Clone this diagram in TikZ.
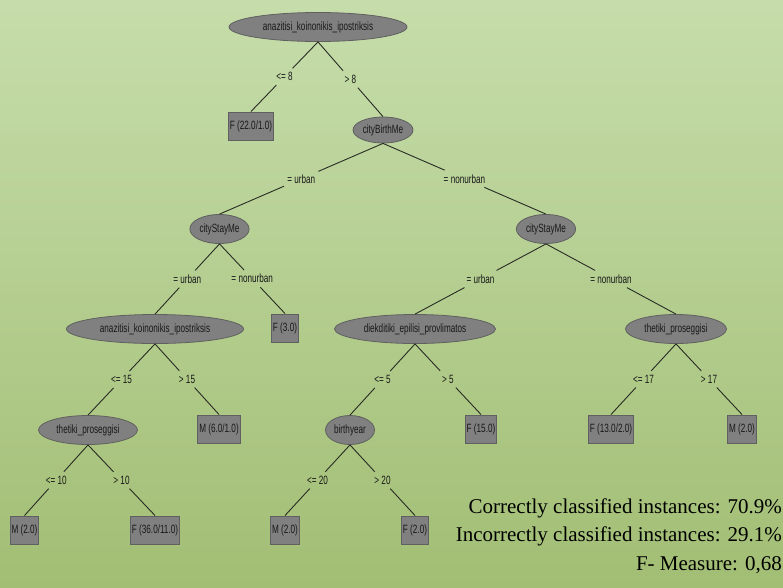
\documentclass[tikz,border=0pt]{standalone}
\usepackage{fontspec}
\usetikzlibrary{shapes.geometric}
\newfontfamily\nodefont[FakeStretch=0.68]{Liberation Sans}
\newfontfamily\statfont{Liberation Serif}
\definecolor{bgtop}{RGB}{198,221,171}
\definecolor{bgbot}{RGB}{162,190,116}
\definecolor{nodegray}{RGB}{128,128,128}
\definecolor{nodeedge}{RGB}{96,96,96}
\definecolor{linecol}{RGB}{40,44,36}
\definecolor{txt}{RGB}{25,25,25}
\tikzset{
  inner/.style={ellipse, fill=nodegray, draw=nodeedge, line width=0.8pt, inner sep=1pt, minimum height=29pt, font=\nodefont\fontsize{12}{14}\selectfont, text=txt},
  leaf/.style={rectangle, fill=nodegray, draw=nodeedge, line width=1pt, inner xsep=1.5pt, inner ysep=1pt, minimum height=28pt, font=\nodefont\fontsize{12}{14}\selectfont, text=txt},
  lbl/.style={inner xsep=3pt, inner ysep=4pt, font=\nodefont\fontsize{12}{14}\selectfont, text=txt},
  edge/.style={draw=linecol, line width=0.9pt},
  stat/.style={anchor=base east, inner sep=0pt, font=\statfont\fontsize{21}{24}\selectfont, text=black}
}
\begin{document}
\begin{tikzpicture}[x=1pt,y=-1pt]
\shade[top color=bgtop, bottom color=bgbot] (0,0) rectangle (783,587);
\useasboundingbox (0,0) rectangle (783,587);

% nodes
\node[inner, minimum width=178pt] (root) at (318,27) {anazitisi\_koinonikis\_ipostriksis};
\node[leaf] (f22) at (251,126) {F (22.0/1.0)};
\node[inner, minimum width=60pt, minimum height=26pt] (cbm) at (383,130) {cityBirthMe};
\node[inner, minimum width=57pt] (csl) at (219.5,229) {cityStayMe};
\node[inner, minimum width=57pt] (csr) at (546,229) {cityStayMe};
\node[inner, minimum width=177pt] (anz) at (155,329) {anazitisi\_koinonikis\_ipostriksis};
\node[leaf] (f3) at (285,328) {F (3.0)};
\node[inner, minimum width=161pt] (diek) at (415,329) {diekditiki\_epilisi\_provlimatos};
\node[inner, minimum width=101pt] (thr) at (676,329) {thetiki\_proseggisi};
\node[inner, minimum width=99pt] (thl) at (88,430) {thetiki\_proseggisi};
\node[leaf] (m6) at (219,429) {M (6.0/1.0)};
\node[inner, minimum width=49pt] (by) at (350,430) {birthyear};
\node[leaf] (f15) at (481,429) {F (15.0)};
\node[leaf] (f13) at (611,429) {F (13.0/2.0)};
\node[leaf] (m2r) at (742,429) {M (2.0)};
\node[leaf] (m2l) at (24.5,530) {M (2.0)};
\node[leaf] (f36) at (155,530) {F (36.0/11.0)};
\node[leaf] (m2b) at (285,530) {M (2.0)};
\node[leaf] (f2) at (415,530) {F (2.0)};

% edge labels at midpoints
\path (root.south) -- node[lbl] (e1) {<= 8} (f22.north);
\path (root.south) -- node[lbl] (e2) {> 8} (cbm.north);
\path (cbm.south) -- node[lbl] (e3) {= urban} (csl.north);
\path (cbm.south) -- node[lbl] (e4) {= nonurban} (csr.north);
\path (csl.south) -- node[lbl] (e5) {= urban} (anz.north);
\path (csl.south) -- node[lbl] (e6) {= nonurban} (f3.north);
\path (csr.south) -- node[lbl] (e7) {= urban} (diek.north);
\path (csr.south) -- node[lbl] (e8) {= nonurban} (thr.north);
\path (anz.south) -- node[lbl] (e9) {<= 15} (thl.north);
\path (anz.south) -- node[lbl] (e10) {> 15} (m6.north);
\path (diek.south) -- node[lbl] (e11) {<= 5} (by.north);
\path (diek.south) -- node[lbl] (e12) {> 5} (f15.north);
\path (thr.south) -- node[lbl] (e13) {<= 17} (f13.north);
\path (thr.south) -- node[lbl] (e14) {> 17} (m2r.north);
\path (thl.south) -- node[lbl] (e15) {<= 10} (m2l.north);
\path (thl.south) -- node[lbl] (e16) {> 10} (f36.north);
\path (by.south) -- node[lbl] (e17) {<= 20} (m2b.north);
\path (by.south) -- node[lbl] (e18) {> 20} (f2.north);

% connectors
\draw[edge] (root.south) -- (e1) (e1) -- (f22.north);
\draw[edge] (root.south) -- (e2) (e2) -- (cbm.north);
\draw[edge] (cbm.south) -- (e3) (e3) -- (csl.north);
\draw[edge] (cbm.south) -- (e4) (e4) -- (csr.north);
\draw[edge] (csl.south) -- (e5) (e5) -- (anz.north);
\draw[edge] (csl.south) -- (e6) (e6) -- (f3.north);
\draw[edge] (csr.south) -- (e7) (e7) -- (diek.north);
\draw[edge] (csr.south) -- (e8) (e8) -- (thr.north);
\draw[edge] (anz.south) -- (e9) (e9) -- (thl.north);
\draw[edge] (anz.south) -- (e10) (e10) -- (m6.north);
\draw[edge] (diek.south) -- (e11) (e11) -- (by.north);
\draw[edge] (diek.south) -- (e12) (e12) -- (f15.north);
\draw[edge] (thr.south) -- (e13) (e13) -- (f13.north);
\draw[edge] (thr.south) -- (e14) (e14) -- (m2r.north);
\draw[edge] (thl.south) -- (e15) (e15) -- (m2l.north);
\draw[edge] (thl.south) -- (e16) (e16) -- (f36.north);
\draw[edge] (by.south) -- (e17) (e17) -- (m2b.north);
\draw[edge] (by.south) -- (e18) (e18) -- (f2.north);

% statistics
\node[stat] (s1) at (782,513) {Correctly classified instances: 70.9\%};
\node[stat] (s2) at (782,541) {Incorrectly classified instances: 29.1\%};
\node[stat] (s3) at (782,570) {F- Measure: 0,68};
\end{tikzpicture}
\end{document}
